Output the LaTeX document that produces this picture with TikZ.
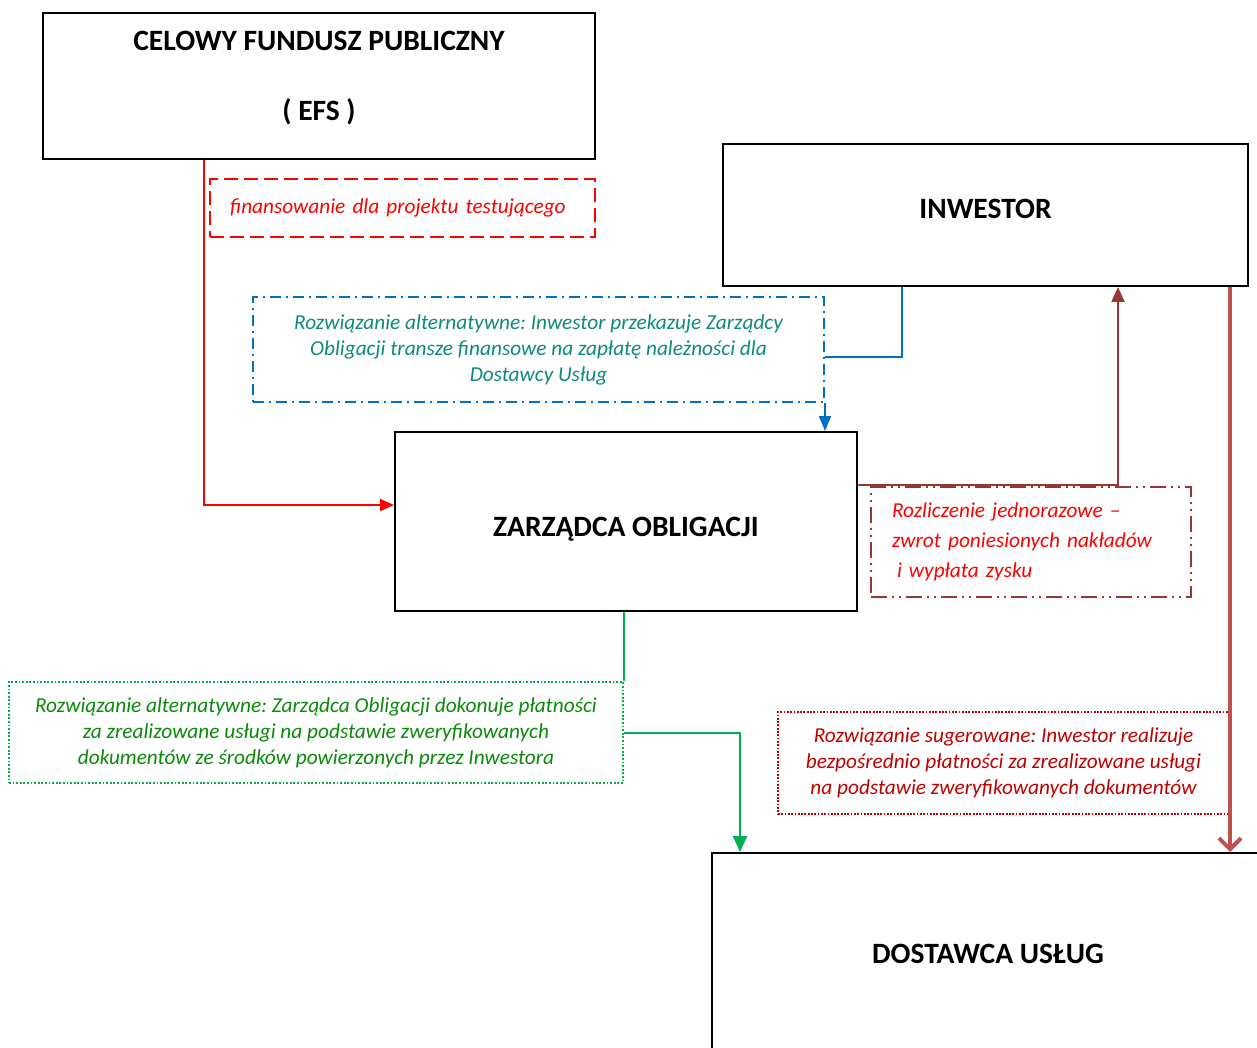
\documentclass[tikz,border=0pt]{standalone}
\usepackage{fontspec}
\setmainfont{Carlito}
\usetikzlibrary{arrows.meta}
\frenchspacing
\definecolor{cRed}{HTML}{FF0000}
\definecolor{cBlue}{HTML}{0070C0}
\definecolor{cTeal}{HTML}{0E8A7E}
\definecolor{cBrown}{HTML}{953735}
\definecolor{cRB}{HTML}{C0504D}
\definecolor{cGreen}{HTML}{00B050}
\definecolor{cDkGreen}{HTML}{0A8A0A}
\definecolor{cDkRed}{HTML}{C00000}
\begin{document}
\begin{tikzpicture}[x=1pt,y=-1pt,
  boxshape/.style={draw=black, line width=2pt, inner sep=0pt},
  btxt/.style={inner sep=0pt, align=center, font=\fontsize{29.5}{34}\selectfont\bfseries},
  itxt/.style={inner sep=0pt, font=\fontsize{21.3}{26}\selectfont\itshape},
  redbox/.style={itxt, draw=cRed, text=cRed, line width=2pt, dash pattern=on 14pt off 6pt},
  bluebox/.style={itxt, draw=cBlue, text=cTeal, line width=2pt, dash pattern=on 11pt off 5pt on 2pt off 5pt, align=center},
  brownbox/.style={itxt, draw=cBrown, text=cRed, line width=2pt, dash pattern=on 16pt off 5pt on 2pt off 5pt on 2pt off 5pt},
  greenbox/.style={itxt, draw=cGreen, text=cDkGreen, line width=1.8pt, dash pattern=on 1.8pt off 1.8pt, align=center},
  dredbox/.style={itxt, draw=cDkRed, text=cDkRed, line width=1.8pt, dash pattern=on 1.8pt off 1.5pt, align=center},
  redarr/.style={draw=cRed, line width=2pt, -{Triangle[length=14pt,width=12pt]}},
  bluearr/.style={draw=cBlue, line width=2pt},
  brownarr/.style={draw=cBrown, line width=2.2pt, -{Triangle[length=15pt,width=13pt]}},
  thickarr/.style={draw=cRB, line width=4.5pt, -{Straight Barb[length=11pt,width=22pt,line width=4pt]}},
  greenarr/.style={draw=cGreen, line width=2pt}
]
\useasboundingbox (0,0) rectangle (1257,1048);
\fill[white] (0,0) rectangle (1257,1048);

% main boxes
\node[boxshape, minimum width=552pt, minimum height=146pt] (cfp) at (319,86) {};
\node[btxt] (cfptxt) at (319,78) {CELOWY FUNDUSZ PUBLICZNY\\[36pt]( EFS )};
\node[boxshape, minimum width=525pt, minimum height=142pt] (inw) at (985.5,215) {};
\node[btxt] (inwtxt) at (985.5,209) {INWESTOR};
\node[boxshape, minimum width=462pt, minimum height=179pt] (zo) at (626,521.5) {};
\node[btxt] (zotxt) at (626,529) {ZARZĄDCA OBLIGACJI};
\node[boxshape, minimum width=552pt, minimum height=202pt] (dost) at (988,954) {};
\node[btxt] (dosttxt) at (988,954) {DOSTAWCA USŁUG};

% label boxes
\node[redbox, minimum width=385pt, minimum height=58pt, text width=345pt, align=left] (fin) at (402.5,208)
  {finansowanie dla projektu testującego};
\node[bluebox, minimum width=571pt, minimum height=105pt] (alt1) at (538.5,349.5)
  {Rozwiązanie alternatywne: Inwestor przekazuje Zarządcy\\Obligacji transze finansowe na zapłatę należności dla\\Dostawcy Usług};
\node[brownbox, minimum width=320pt, minimum height=110pt, text width=278pt, align=left,
  font=\fontsize{21.3}{30}\selectfont\itshape] (roz) at (1031,542)
  {Rozliczenie jednorazowe –\\zwrot poniesionych nakładów\\\hspace*{5pt}i wypłata zysku};
\node[greenbox, minimum width=614pt, minimum height=101pt] (alt2) at (316,732.5)
  {Rozwiązanie alternatywne: Zarządca Obligacji dokonuje płatności\\za zrealizowane usługi na podstawie zweryfikowanych\\dokumentów ze środków powierzonych przez Inwestora};
\node[dredbox, minimum width=451pt, minimum height=102pt] (sug) at (1003.5,763)
  {Rozwiązanie sugerowane: Inwestor realizuje\\bezpośrednio płatności za zrealizowane usługi\\na podstawie zweryfikowanych dokumentów};

% helper coordinates
\coordinate (xr) at (204,505);
\coordinate (xb) at (902,357);
\coordinate (xbr) at (1118,485);
\coordinate (xt) at (1230,0);
\coordinate (xg) at (740,0);

% connectors
\draw[redarr] (cfp.south -| xr) |- (zo.west |- xr);
\draw[bluearr] (inw.south -| xb) |- (alt1.east |- xb);
\draw[bluearr, -{Triangle[length=15pt,width=12pt]}] (alt1.south east) -- (zo.north -| alt1.south east);
\draw[brownarr] (zo.east |- xbr) -| (inw.south -| xbr);
\draw[thickarr] (inw.south -| xt) -- (dost.north -| xt);
\draw[greenarr] (zo.south -| alt2.north east) -- (alt2.north east);
\draw[greenarr, -{Triangle[length=16pt,width=14pt]}] (alt2.east) -| (dost.north -| xg);
\end{tikzpicture}
\end{document}
